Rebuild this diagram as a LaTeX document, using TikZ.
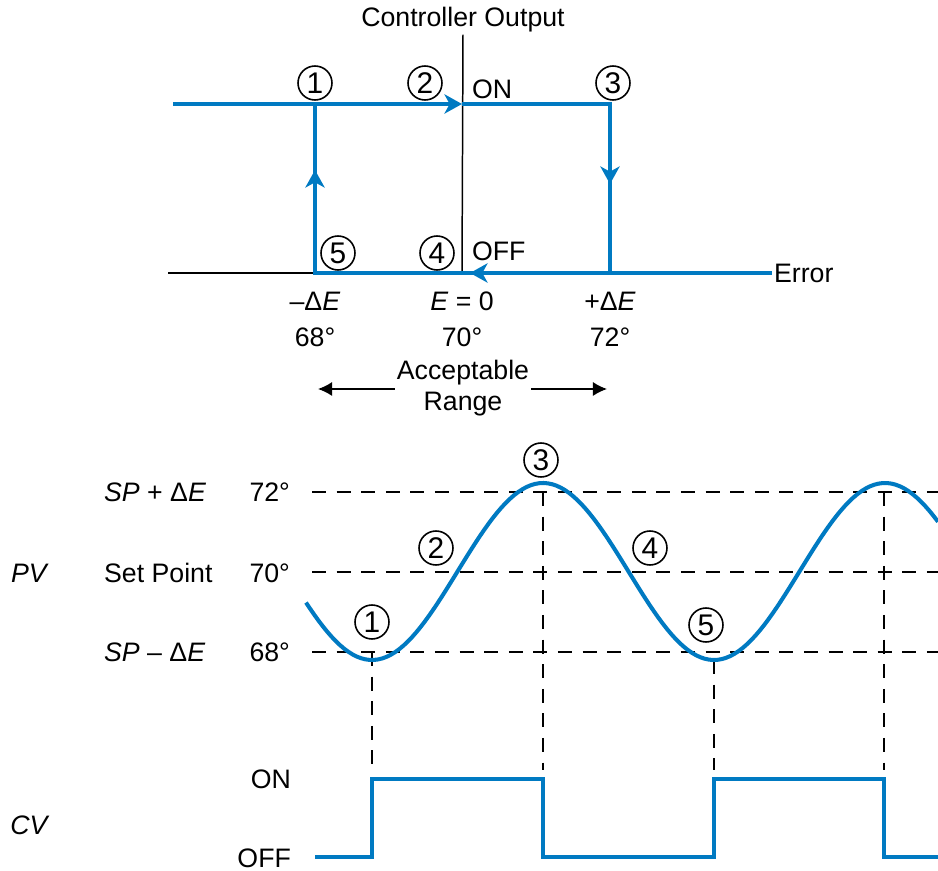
\documentclass[tikz,border=0pt]{standalone}
\usepackage{fontspec}
\setmainfont{Liberation Sans}
\usetikzlibrary{arrows.meta}
\definecolor{ctrlblue}{RGB}{0,122,194}
\begin{document}
\begin{tikzpicture}[x=0.02cm, y=-0.02cm,
  every node/.style={font=\fontsize{15.2}{17}\selectfont, inner sep=1pt},
  sig/.style={ctrlblue, line width=2.3pt},
  axisline/.style={black, line width=0.85pt},
  gridline/.style={black, line width=0.9pt, dash pattern=on 8pt off 6pt},
  num/.style={draw, circle, line width=0.9pt, minimum size=0.68cm, inner sep=0pt,
    font=\fontsize{17}{19}\selectfont},
  sigtip/.style={sig, -{Stealth[length=10pt,width=11pt,inset=3pt]}},
  rangetip/.style={axisline, -{Latex[length=8pt,width=8pt]}}]
\useasboundingbox (0,0) rectangle (938,871);

% hysteresis loop
\node (co) at (463,20) {Controller Output};
\coordinate (ax0) at (462,275);
\coordinate (onL) at (173,104);
\coordinate (onM) at (462,104);
\coordinate (onE) at (315,104);
\coordinate (onR) at (610,104);
\coordinate (offL) at (315,273);
\coordinate (offM) at (470,273);
\coordinate (offR) at (610,273);
\coordinate (base) at (168,273);
\node[anchor=west] (err) at (772,273) {Error};
\draw[axisline] (base) -- (offL);
\draw[axisline] (co.south) -- (ax0);
\draw[sig] (onM) -- (onR) -- (offR) -- (err.west);
\draw[sig] (offR) -- (offL) -- (onE);
\draw[sigtip] (onL) -- (onM);
\draw[sigtip] (315,195) -- (315,170);
\draw[sigtip] (610,155) -- (610,184);
\draw[sigtip] (495,273) -- (offM);
\node[num] (h1) at (315,83) {1};
\node[num] (h2) at (425,83) {2};
\node[num] (h3) at (613,83) {3};
\node[num] (h4) at (437,253) {4};
\node[num] (h5) at (338,253) {5};
\node[anchor=west] (on) at (470,89) {ON};
\node[anchor=west] (off) at (470,251) {OFF};
\node (mdE) at (315,301) {–Δ\textit{E}};
\node (lo) at (315,337) {68°};
\node (zero) at (462,301) {\textit{E} = 0};
\node (mid) at (462,337) {70°};
\node (pdE) at (610,301) {+Δ\textit{E}};
\node (hi) at (610,337) {72°};
\node[align=center, font=\fontsize{15.2}{18}\selectfont] (range) at (463,388) {Acceptable\\Range};
\coordinate (rgL) at (318,389);
\coordinate (rgR) at (607,389);
\draw[rangetip] (range.west |- rgL) -- (rgL);
\draw[rangetip] (range.east |- rgR) -- (rgR);

% PV trace
\node (pv) at (30,573) {\textit{PV}};
\node[anchor=west] (sppl) at (102,492) {\textit{SP} + Δ\textit{E}};
\node[anchor=west] (sp) at (102,573) {Set Point};
\node[anchor=west] (spmi) at (102,652) {\textit{SP} – Δ\textit{E}};
\node[anchor=east] (t72) at (292,492) {72°};
\node[anchor=east] (t70) at (292,573) {70°};
\node[anchor=east] (t68) at (292,652) {68°};
\draw[gridline] (312,492) -- (938,492);
\draw[gridline] (312,572) -- (938,572);
\draw[gridline] (312,652) -- (938,652);
\draw[gridline] (372,652) -- (372,770);
\draw[gridline] (543,492) -- (543,770);
\draw[gridline] (714,660) -- (714,770);
\draw[gridline] (884,492) -- (884,770);
\draw[sig] plot[domain=306:938, samples=150] (\x, {571.5+88.5*cos(1.05263*(\x-372))});
\node[num] (p1) at (372,622) {1};
\node[num] (p2) at (436,548) {2};
\node[num] (p3) at (541,460) {3};
\node[num] (p4) at (650,548) {4};
\node[num] (p5) at (706,625) {5};

% CV trace
\node (cv) at (30,825) {\textit{CV}};
\node[anchor=east] (cvon) at (293,779) {ON};
\node[anchor=east] (cvoff) at (293,858) {OFF};
\draw[sig] (315,857) -- (372,857) -- (372,779) -- (543,779) -- (543,857)
  -- (714,857) -- (714,779) -- (884,779) -- (884,857) -- (938,857);
\end{tikzpicture}
\end{document}
